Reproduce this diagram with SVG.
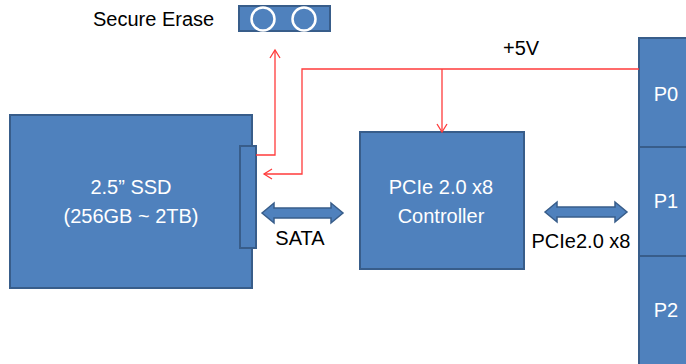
<svg xmlns="http://www.w3.org/2000/svg" width="686" height="364" viewBox="0 0 686 364">
<defs>
<style>
.box{fill:#4F81BD;stroke:#385D8A;stroke-width:2}
.wt{fill:#fff;font-family:"Liberation Sans",Arial,sans-serif;font-size:20px;text-anchor:middle}
.bt{fill:#000;font-family:"Liberation Sans",Arial,sans-serif;font-size:20px}
.red{fill:none;stroke:#FF3B3B;stroke-width:1.3}
.dbl{fill:#4F81BD;stroke:#385D8A;stroke-width:1.5}
</style>
<marker id="ah" markerWidth="12" markerHeight="12" refX="10" refY="6" orient="auto" markerUnits="userSpaceOnUse">
<path d="M2,1 L10,6 L2,11" fill="none" stroke="#FF3B3B" stroke-width="1.3"/>
</marker>
</defs>
<rect width="686" height="364" fill="#fff"/>
<g id="secure-erase">
<text class="bt" x="93" y="26">Secure Erase</text>
<rect class="box" x="239" y="6" width="91" height="25" stroke-width="1.5"/>
<circle cx="263" cy="19" r="11.5" fill="none" stroke="#fff" stroke-width="2.5"/>
<circle cx="304" cy="19" r="11.5" fill="none" stroke="#fff" stroke-width="2.5"/>
</g>
<g id="ssd">
<rect class="box" x="10" y="115" width="242" height="173"/>
<rect class="box" x="240" y="146" width="16" height="102"/>
<text class="wt" x="131" y="194">2.5” SSD</text>
<text class="wt" x="131" y="223">(256GB ~ 2TB)</text>
</g>
<g id="controller">
<rect class="box" x="360" y="132" width="164" height="137"/>
<text class="wt" x="441" y="194">PCIe 2.0 x8</text>
<text class="wt" x="441" y="223">Controller</text>
</g>
<g id="host">
<rect class="box" x="639" y="38" width="50" height="109"/>
<rect class="box" x="639" y="147" width="50" height="109"/>
<rect class="box" x="639" y="256" width="50" height="110"/>
<text class="wt" x="666" y="101">P0</text>
<text class="wt" x="666" y="208">P1</text>
<text class="wt" x="666" y="317">P2</text>
</g>
<g id="connectors">
<polyline class="red" points="256,155 275,155 275,50" marker-end="url(#ah)"/>
<polyline class="red" points="639,69 302,69 302,174 264,174" marker-end="url(#ah)"/>
<line class="red" x1="442" y1="69" x2="442" y2="132" marker-end="url(#ah)"/>
<path class="dbl" d="M262,213 L274,203 L274,208 L331,208 L331,203 L343,213 L331,223 L331,218 L274,218 L274,223 Z"/>
<path class="dbl" d="M545,212 L557,202 L557,207 L615,207 L615,202 L627,212 L615,222 L615,217 L557,217 L557,222 Z"/>
<text class="bt" x="300" y="245" text-anchor="middle">SATA</text>
<text class="bt" x="581" y="248" text-anchor="middle">PCIe2.0 x8</text>
<text class="bt" x="503" y="55">+5V</text>
</g>
</svg>
